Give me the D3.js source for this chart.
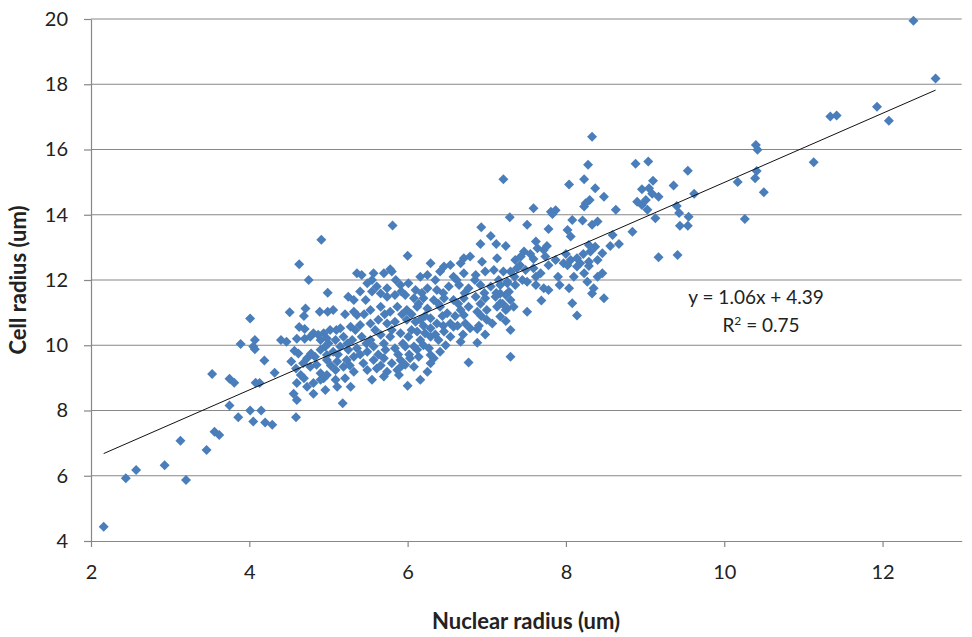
<!DOCTYPE html>
<html><head><meta charset="utf-8">
<script src="https://cdn.jsdelivr.net/npm/d3@7"></script>
<style>body{margin:0;background:#fff}</style>
</head><body>
<svg id="c" width="972" height="637"></svg>
<script>
const nuclearRadius = [
2.16,2.44,2.57,2.93,3.20,3.13,3.46,3.56,3.62,3.53,3.75,3.81,3.75,3.86,4.01,4.05,4.08,
4.91,4.63,4.75,4.99,4.51,4.71,4.69,4.89,4.99,4.01,4.63,4.77,4.81,4.87,4.94,3.89,4.07,4.05,4.07,4.40,4.47,4.57,4.19,4.53,4.73,4.83,4.90,4.96,4.98,4.32,4.59,4.65,4.69,4.77,4.85,4.90,4.94,4.98,4.13,4.60,4.73,4.81,4.90,4.56,4.60,4.81,4.96,4.15,4.20,4.29,4.59,
5.81,
6.00,5.36,5.42,5.57,5.70,5.78,5.80,5.49,5.61,5.74,5.91,6.01,5.25,5.32,5.47,5.66,5.74,5.84,5.97,6.08,
5.06,5.32,5.36,5.53,5.66,5.78,5.87,5.99,6.12,
5.02,5.15,5.28,5.40,5.53,5.63,5.74,5.84,5.99,6.10,
4.90,4.98,5.09,5.19,5.30,5.42,5.53,5.66,5.78,5.91,6.01,6.12,
5.06,5.15,5.25,5.36,5.49,5.57,5.72,5.84,5.97,6.08,
4.98,5.11,5.23,5.32,5.44,5.57,5.70,5.80,5.91,6.03,6.14,
5.09,5.19,5.32,5.49,5.61,5.74,5.87,5.97,6.08,
5.09,5.21,5.55,5.70,5.89,5.11,5.28,6.00,5.18,
7.29,6.93,7.05,6.92,7.12,6.71,6.79,6.29,6.46,6.54,6.67,6.94,7.13,
6.16,6.25,6.41,6.58,6.71,6.86,6.98,7.09,7.21,
6.10,6.25,6.37,6.52,6.65,6.77,6.92,7.05,7.17,7.26,
6.20,6.33,6.46,6.58,6.71,6.86,6.98,7.11,7.24,
6.25,6.41,6.50,6.67,6.77,6.88,7.00,7.13,7.24,
6.16,6.29,6.37,6.54,6.71,6.73,7.00,7.07,7.17,
6.22,6.29,6.46,6.58,6.79,6.88,
6.16,6.29,6.39,6.54,6.67,6.88,
6.12,6.27,6.41,6.29,6.29,6.25,6.16,6.77,7.30,6.33,7.30,
8.28,7.21,8.04,8.23,8.37,8.25,8.30,8.23,7.59,7.81,7.87,7.83,7.51,7.78,8.08,8.21,8.33,8.40,8.02,8.06,
7.24,7.62,7.64,7.72,7.76,8.29,8.37,8.31,7.47,7.43,7.36,7.59,7.74,7.87,8.06,8.14,8.18,8.29,8.40,
7.30,7.38,7.49,7.59,7.68,7.97,8.14,8.29,
7.26,7.36,7.45,7.51,7.72,7.78,8.04,8.23,8.27,8.40,8.35,
7.17,7.28,7.30,7.34,7.26,7.17,7.69,8.08,8.14,8.33,7.51,7.24,
8.33,8.88,9.04,9.54,9.10,9.36,8.48,8.96,9.05,9.09,9.17,8.90,8.96,9.01,9.03,9.62,8.63,9.40,9.43,9.13,9.55,9.44,9.54,8.84,8.59,8.67,8.56,8.46,9.17,9.41,8.46,8.48,
12.39,12.67,11.93,12.08,11.34,11.42,10.40,10.42,11.13,10.41,10.39,10.17,10.50,10.26,
5.21,5.45,5.71,5.93,6.05, 5.10,5.34,5.59,5.80,6.05, 5.00,5.24,5.48,5.70,5.94,
5.12,5.40,5.63,5.88,6.02, 5.03,5.27,5.66,5.93, 5.40,5.55,5.92, 5.55,5.85,
6.35,6.62,6.85,7.15, 6.18,6.45,6.72,6.97,7.12, 6.14,6.39,6.64,6.92,7.20,
6.22,6.44,6.60,6.93, 6.20,6.45,6.63,6.90, 6.35,6.70,6.98, 6.20,6.48,
7.42,7.78,8.02, 7.35,7.62,7.90,8.10, 7.62,7.92, 7.55,8.00,8.22,
4.60,4.70,4.62,4.78,4.68,4.70
];
const cellRadius = [
4.44,5.92,6.18,6.32,5.87,7.07,6.79,7.35,7.25,9.12,8.97,8.85,8.15,7.79,8.00,7.66,8.85,
13.23,12.48,12.00,11.61,11.01,11.13,10.90,11.03,11.03,10.82,10.56,10.26,10.37,10.32,10.37,10.04,10.16,9.96,9.88,10.16,10.11,9.83,9.53,9.50,9.60,9.65,9.86,9.96,9.70,9.16,9.29,9.09,8.99,9.34,9.40,9.14,8.99,9.09,8.84,8.84,8.73,8.84,8.94,8.51,8.32,8.51,8.63,8.00,7.63,7.56,7.79,
13.67,
12.74,12.21,12.15,12.21,12.21,12.33,12.26,11.90,11.80,11.75,11.85,11.90,11.49,11.39,11.39,11.59,11.49,11.54,11.54,11.44,
11.08,11.03,10.93,11.08,11.18,11.03,11.18,11.08,11.18,
10.47,10.52,10.57,10.62,10.67,10.78,10.67,10.72,10.78,10.72,
10.16,10.21,10.16,10.26,10.16,10.26,10.16,10.32,10.26,10.37,10.26,10.42,
9.80,9.96,9.86,9.91,9.80,9.96,9.86,9.91,9.96,9.96,
9.55,9.50,9.55,9.65,9.45,9.55,9.60,9.45,9.55,9.60,9.65,
9.24,9.34,9.19,9.24,9.29,9.19,9.24,9.40,9.34,
8.94,8.99,8.94,9.04,9.09,8.73,8.73,8.76,8.22,
13.92,13.62,13.35,13.10,13.10,12.67,12.72,12.51,12.41,12.46,12.51,12.56,12.67,
12.10,12.15,12.26,12.10,12.21,12.15,12.26,12.31,12.26,
11.69,11.75,11.69,11.80,11.85,11.75,11.85,11.80,11.85,11.95,
11.44,11.39,11.44,11.39,11.44,11.49,11.44,11.49,11.54,
11.13,11.18,10.98,11.08,11.18,11.03,11.08,11.18,11.08,
10.78,10.83,10.67,10.67,10.93,10.67,10.78,10.67,10.88,
10.37,10.52,10.42,10.57,10.52,10.50,
10.16,10.26,10.16,10.26,10.11,10.08,
9.86,9.91,9.80,9.70,9.45,9.19,8.94,9.47,9.65,9.60,10.47,
15.53,15.09,14.93,15.09,14.81,14.35,14.45,14.25,14.20,14.09,14.14,14.02,13.69,13.56,13.84,13.82,13.69,13.79,13.53,13.33,
13.04,13.18,12.97,12.92,13.04,13.07,13.02,12.87,12.87,12.72,12.61,12.64,12.72,12.61,12.61,12.67,12.51,12.56,12.61,
12.26,12.36,12.31,12.36,12.21,12.51,12.41,12.43,
11.90,11.85,12.00,11.95,11.75,11.69,11.75,12.21,11.95,12.10,11.75,
11.59,11.64,11.39,11.18,11.13,11.29,11.37,11.29,10.91,11.59,11.03,10.74,
16.39,15.56,15.63,15.35,15.04,14.90,14.55,14.78,14.81,14.64,14.55,14.40,14.30,14.45,14.15,14.64,14.15,14.27,14.05,13.89,13.94,13.66,13.66,13.48,13.38,13.10,13.04,12.82,12.70,12.77,12.21,11.44,
19.95,18.18,17.31,16.88,17.01,17.04,16.14,15.99,15.61,15.34,15.12,15.00,14.69,13.87,
10.95,10.95,10.95,10.95,10.95, 10.47,10.47,10.47,10.47,10.47, 10.05,10.05,10.05,10.05,10.05,
9.72,9.72,9.72,9.72,9.72, 9.38,9.38,9.38,9.38, 11.65,11.65,11.65, 12.00,12.00,
12.00,12.00,12.00,12.00, 11.60,11.60,11.60,11.60,11.60, 11.27,11.27,11.27,11.27,11.27,
10.90,10.90,10.90,10.90, 10.60,10.60,10.60,10.60, 10.33,10.33,10.33, 10.00,10.00,
12.45,12.45,12.45, 12.10,12.10,12.10,12.10, 11.85,11.85, 12.80,12.80,12.80,
10.20,10.20,9.75,9.75,9.45,10.50
];
const xTicks = [2, 4, 6, 8, 10, 12];
const yTicks = [4, 6, 8, 10, 12, 14, 16, 18, 20];
const trendSlope = 1.06;
const trendIntercept = 4.39;
const r2Value = "0.75";
const xTitle = "Nuclear radius (um)";
const yTitle = "Cell radius (um)";

const FONT = "Lato, 'Open Sans', sans-serif";
const GRID = "#878787";
const svg = d3.select("#c");
const x = d3.scaleLinear().domain([2, 13]).range([91, 961.7]);
const y = d3.scaleLinear().domain([4, 20]).range([541, 19]);

// gridlines
svg.append("g").selectAll("line").data(yTicks.filter(d => d !== 4)).join("line")
  .attr("x1", x(2)).attr("x2", x(13))
  .attr("y1", d => y(d)).attr("y2", d => y(d))
  .attr("stroke", GRID).attr("stroke-width", 1.2);

// y axis
const yAxis = svg.append("g").attr("transform", `translate(${x(2)},0)`)
  .call(d3.axisLeft(y).tickValues(yTicks).tickSize(7).tickSizeOuter(0).tickPadding(16).tickFormat(d3.format("d")));
// x axis
const xAxis = svg.append("g").attr("transform", `translate(0,${y(4)})`)
  .call(d3.axisBottom(x).tickValues(xTicks).tickSize(6).tickSizeOuter(0).tickPadding(18).tickFormat(d3.format("d")));
[yAxis, xAxis].forEach(g => {
  g.select(".domain").attr("stroke", GRID).attr("stroke-width", 1.2);
  g.selectAll(".tick line").attr("stroke", GRID).attr("stroke-width", 1.2);
  g.selectAll(".tick text").attr("font-family", FONT).attr("font-size", 20).attr("fill", "#222");
});

// points
const pts = nuclearRadius.map((v, i) => [v, cellRadius[i]]);
const sym = d3.symbol().type(d3.symbolSquare).size(50);
svg.append("g").selectAll("path").data(pts).join("path")
  .attr("d", sym)
  .attr("transform", d => `translate(${x(d[0])},${y(d[1])}) rotate(45)`)
  .attr("fill", "#4A7EBB");

// trend line
const ext = d3.extent(nuclearRadius);
svg.append("path")
  .datum(ext.map(v => [v, trendSlope * v + trendIntercept]))
  .attr("d", d3.line().x(d => x(d[0])).y(d => y(d[1])))
  .attr("stroke", "#111").attr("stroke-width", 1).attr("fill", "none");

// equation labels
svg.append("text").attr("x", 756).attr("y", 304).attr("text-anchor", "middle")
  .attr("font-family", FONT).attr("font-size", 19).attr("fill", "#222")
  .text(`y = ${trendSlope.toFixed(2)}x + ${trendIntercept.toFixed(2)}`);
const r2 = svg.append("text").attr("x", 761).attr("y", 332).attr("text-anchor", "middle")
  .attr("font-family", FONT).attr("font-size", 19).attr("fill", "#222");
r2.append("tspan").text("R");
r2.append("tspan").attr("dy", -7).attr("font-size", 12).text("2");
r2.append("tspan").attr("dy", 7).text(` = ${r2Value}`);

// axis titles
svg.append("text").attr("x", 526).attr("y", 629).attr("text-anchor", "middle")
  .attr("font-family", FONT).attr("font-size", 22).attr("font-weight", "bold").attr("fill", "#222")
  .text(xTitle);
svg.append("text").attr("transform", `translate(26,${y(12)}) rotate(-90)`).attr("text-anchor", "middle")
  .attr("font-family", FONT).attr("font-size", 22).attr("font-weight", "bold").attr("fill", "#222")
  .text(yTitle);
</script>
</body></html>
